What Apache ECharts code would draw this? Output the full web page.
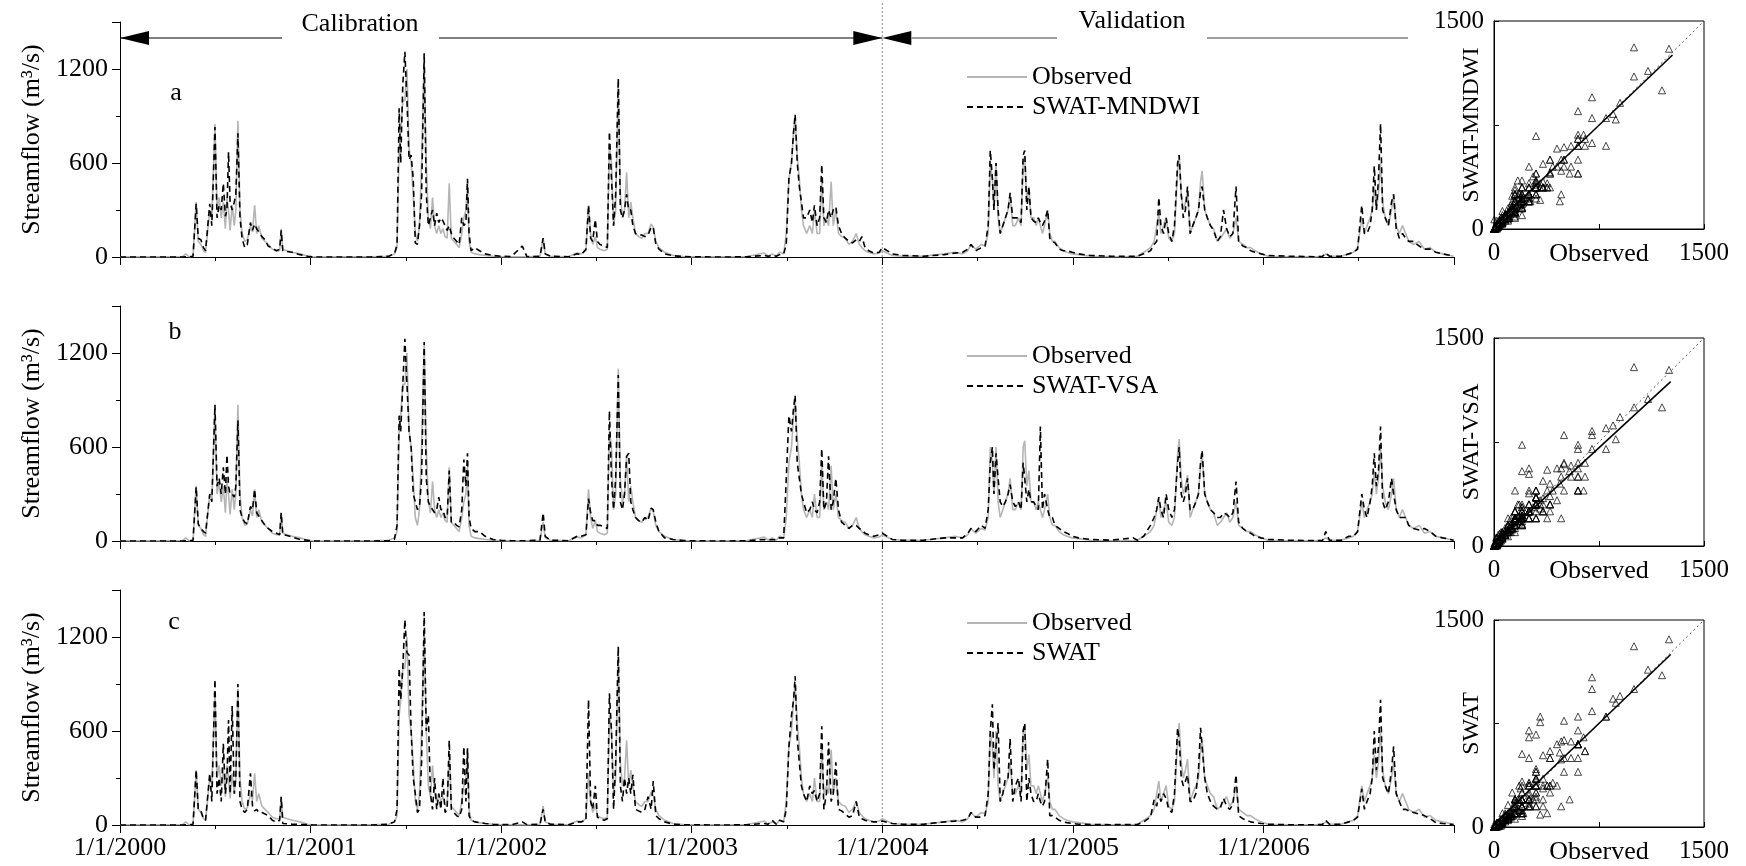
<!DOCTYPE html>
<html>
<head>
<meta charset="utf-8">
<script src="https://cdn.jsdelivr.net/npm/echarts@6/dist/echarts.min.js"></script>
<style>
  html, body { margin: 0; padding: 0; background: #fff; }
  #chart { width: 1746px; height: 866px; }
</style>
</head>
<body>
<div id="chart"></div>
<script>
// day number counted from 1/1/2000, one line per year
const days = [
  0,60,120,126,132,140,146,150,155,160,164,172,176,182,186,190,194,198,202,205,208,211,215,219,222,226,230,234,239,244,250,254,258,262,266,272,278,284,292,300,306,309,312,320,330,345,360,
  370,420,480,515,526,531,535,538,542,546,550,554,558,562,566,570,574,578,583,587,591,595,599,603,607,611,615,619,623,627,631,635,640,645,650,655,659,663,666,669,673,680,689,700,715,730,
  750,771,780,805,811,815,825,860,876,884,893,898,902,906,911,915,920,928,934,938,942,946,950,955,959,963,967,971,975,979,983,988,994,1000,1006,1012,1018,1022,1027,1033,1044,1060,1080,
  1100,1150,1200,1235,1242,1250,1258,1264,1272,1277,1282,1287,1291,1294,1298,1302,1306,1310,1316,1322,1327,1331,1336,1341,1345,1349,1354,1358,1363,1367,1372,1377,1383,1390,1397,1404,1411,1417,1422,1428,1435,1445,1455,
  1461,1480,1500,1540,1580,1600,1615,1625,1631,1640,1651,1658,1664,1668,1672,1675,1679,1683,1687,1692,1697,1702,1706,1711,1716,1722,1727,1731,1734,1738,1742,1746,1751,1756,1760,1764,1768,1772,1778,1782,1787,1792,1800,1808,1815,1825,1837,1860,1900,1942,1950,
  1962,1975,1982,1987,1991,1995,2000,2005,2010,2016,2021,2027,2030,2034,2038,2042,2046,2051,2056,2062,2067,2071,2074,2079,2084,2090,2096,2103,2109,2115,2121,2127,2133,2139,2144,2152,2160,2167,2175,2187,2200,2240,2290,2305,2311,2318,
  2340,2355,2364,2372,2380,2385,2390,2396,2400,2404,2408,2412,2416,2420,2425,2431,2437,2441,2446,2452,2458,2464,2470,2479,2490,2500,2511,2522,2535,2550,2556
];

const observed = [
  2,1,3,20,2,5,350,100,80,40,30,300,260,850,300,380,250,350,180,380,300,170,330,200,300,870,300,150,100,110,200,160,330,150,200,120,100,80,50,40,40,180,50,40,30,20,5,
  0,1,2,5,20,60,700,800,1000,1000,1200,700,600,400,150,100,200,600,1250,600,250,180,380,200,150,200,150,180,130,120,470,120,100,80,60,150,250,300,480,100,30,20,15,10,5,2,
  1,2,1,5,120,20,5,2,25,20,40,330,150,80,130,60,50,40,50,700,600,200,300,1100,400,250,300,540,250,350,250,150,130,120,150,150,210,190,100,60,30,10,3,
  1,1,2,25,5,20,5,30,20,150,500,600,800,900,650,500,300,200,150,200,150,300,150,150,500,200,250,200,480,200,300,150,130,120,80,100,150,80,60,40,30,20,25,
  40,10,5,5,20,30,20,40,80,50,80,70,150,600,500,300,600,250,150,200,250,300,400,200,200,250,200,600,640,350,450,250,250,200,250,200,150,200,300,150,100,100,60,40,30,20,15,5,2,3,5,
  30,60,100,200,280,150,200,250,120,100,150,550,650,400,300,350,420,150,200,250,300,480,550,300,250,200,180,100,120,150,180,120,150,250,100,80,60,60,40,20,5,2,1,5,20,5,
  5,20,30,60,250,150,200,250,300,450,300,400,600,350,250,200,300,400,200,150,200,150,100,80,100,50,60,30,20,10,5
];

const swatMndwi = [
  0,0,0,2,1,5,340,120,110,60,40,340,200,830,250,330,300,470,260,300,670,350,300,350,400,790,250,120,60,80,220,170,210,180,160,130,110,70,55,40,50,170,40,35,30,15,5,
  0,0,0,5,20,80,950,600,1100,1310,1000,620,650,500,90,80,200,400,1300,400,200,250,300,200,280,220,250,230,200,170,200,150,120,100,80,250,200,220,500,150,40,60,40,20,10,5,
  2,70,2,5,120,20,5,2,20,15,50,330,120,100,240,100,80,70,60,800,500,200,400,1140,300,250,300,400,300,300,200,150,140,140,130,140,190,190,80,50,20,8,3,
  1,0,1,10,5,10,5,15,20,80,500,600,800,910,600,450,350,250,250,300,220,330,200,250,590,250,220,300,250,300,320,200,150,120,100,90,110,100,130,60,40,25,30,
  60,20,10,5,15,25,30,50,80,40,60,70,200,680,500,300,600,300,150,200,250,300,410,250,250,250,220,650,680,300,450,250,230,220,250,220,200,230,300,120,100,90,50,40,40,30,20,10,5,5,5,
  20,40,80,100,380,200,150,250,150,100,200,600,650,400,250,300,450,150,200,250,300,420,450,300,250,200,170,100,130,300,180,130,150,450,100,70,60,40,30,20,10,5,2,5,25,5,
  5,20,30,50,330,150,150,200,300,580,300,500,850,300,250,200,350,400,180,120,150,120,100,100,70,50,50,30,20,10,5
];

const swatVsa = [
  0,0,0,2,1,5,345,110,80,60,50,300,250,870,350,400,300,470,300,550,350,300,300,280,350,770,200,150,120,110,220,200,330,180,160,130,100,80,60,50,40,180,40,35,25,10,5,
  0,0,0,2,10,100,800,700,1000,1290,1000,700,600,300,250,200,220,400,1270,400,250,220,200,180,200,280,200,200,150,150,450,120,120,100,90,200,520,350,560,150,80,60,60,30,10,5,
  2,2,2,5,180,30,5,2,30,30,40,270,180,130,130,100,100,90,80,830,400,200,400,1060,250,200,300,540,560,250,200,150,130,120,150,130,210,200,120,60,20,10,3,
  1,0,1,10,5,10,5,20,20,400,800,700,850,930,500,400,300,250,180,200,250,200,180,250,590,200,250,540,200,250,400,200,120,100,80,100,100,80,70,50,40,30,40,
  50,10,5,5,20,20,20,50,80,60,100,80,200,500,600,300,560,400,250,220,250,300,360,250,220,250,200,500,400,250,330,250,250,220,200,730,200,300,200,150,150,100,80,60,50,30,20,10,5,20,5,
  30,100,150,200,280,200,150,300,200,150,200,500,600,300,250,300,400,200,200,250,300,500,580,300,250,200,180,150,150,180,170,150,180,380,120,80,60,50,30,20,10,5,2,5,60,5,
  5,30,30,60,300,200,150,250,350,560,350,450,730,250,200,250,400,300,200,150,150,150,100,80,70,80,60,30,20,10,5
];

const swatDefault = [
  0,0,0,2,1,5,350,100,90,40,30,330,150,930,200,300,150,520,200,300,670,200,760,200,300,900,150,100,80,100,330,120,90,100,80,80,70,60,30,20,30,180,10,8,5,3,2,
  0,0,0,5,20,100,1000,800,1000,1310,1100,1085,600,300,200,80,100,400,1360,600,700,200,100,300,100,200,100,300,80,100,540,100,80,60,50,100,500,150,490,60,30,20,15,10,5,3,
  2,20,2,5,100,20,5,2,20,20,30,800,150,100,250,50,40,30,40,840,600,100,400,1140,250,150,300,200,300,200,320,100,90,80,100,180,100,280,60,40,20,5,2,
  1,0,1,10,5,30,5,30,20,100,500,700,800,950,550,400,250,200,150,250,200,220,150,200,630,100,200,530,150,200,400,100,90,70,50,60,150,50,40,30,25,20,20,
  25,10,5,5,20,25,30,40,80,50,50,60,200,600,770,350,500,650,150,200,300,300,550,150,250,300,150,600,650,150,300,200,150,150,200,150,120,150,420,60,60,50,30,20,15,10,5,3,2,3,3,
  20,50,160,120,200,150,200,170,100,80,200,620,550,300,250,280,320,150,150,200,350,620,500,300,200,150,120,100,110,170,120,100,130,320,60,40,30,20,15,10,5,2,2,5,30,5,
  5,20,30,50,230,100,150,200,300,600,350,500,800,300,250,200,350,500,200,150,100,100,90,80,70,60,40,15,10,5,3
];

const yearLabels = ['1/1/2000', '1/1/2001', '1/1/2002', '1/1/2003', '1/1/2004', '1/1/2005', '1/1/2006'];
const simNames = ['SWAT-MNDWI', 'SWAT-VSA', 'SWAT'];
const panelLetters = ['a', 'b', 'c'];
// regression lines, plus the 1:1 line
const fitLines = [
  [[0, 25], [1275, 1255]],
  [[0, 10], [1262, 1185]],
  [[0, 20], [1262, 1250]]
];
const oneToOne = [[0, 0], [1500, 1500]];
const splitDay = 1461; // 1/1/2004, start of validation

const FONT = '"Liberation Serif", "Times New Roman", Times, serif';
const YEAR = 365.25;
const sims = [swatMndwi, swatVsa, swatDefault];
const tsTop = [22, 306, 590];
const scTop = [21, 338, 620];
const legendTop = [64, 343, 610];
const letterPos = [[176, 93], [175, 332], [174, 622]];

const black = { color: '#000', width: 1 };
const grid = [], xAxis = [], yAxis = [], series = [], legend = [];

tsTop.forEach((top, k) => {
  grid.push({ left: 120, top: top, width: 1334, height: 235 });
  xAxis.push({
    type: 'value', gridIndex: k, min: 0, max: 7 * YEAR, interval: YEAR,
    axisLine: { lineStyle: black },
    axisTick: { length: 8, lineStyle: black },
    minorTick: { show: true, splitNumber: 2, length: 4, lineStyle: black },
    splitLine: { show: false },
    axisLabel: {
      show: k === 2, margin: 10, color: '#000', fontSize: 26, fontFamily: FONT,
      formatter: v => yearLabels[Math.round(v / YEAR)] || ''
    }
  });
  yAxis.push({
    type: 'value', gridIndex: k, min: 0, max: 1500, interval: 600,
    name: 'Streamflow (m³/s)', nameLocation: 'middle', nameGap: 74,
    nameTextStyle: { fontSize: 26, fontFamily: FONT, color: '#000' },
    axisLine: { show: true, lineStyle: black },
    axisTick: { show: true, length: 8, lineStyle: black },
    minorTick: { show: true, splitNumber: 2, length: 4, lineStyle: black },
    splitLine: { show: false },
    axisLabel: {
      margin: 12, color: '#000', fontSize: 26, fontFamily: FONT,
      formatter: v => (v <= 1200 ? String(v) : '')
    }
  });
  series.push({
    name: 'Observed', type: 'line', xAxisIndex: k, yAxisIndex: k,
    symbol: 'none', silent: true,
    lineStyle: { color: '#b5b5b5', width: 1.6 },
    itemStyle: { color: '#b5b5b5' },
    data: days.map((d, i) => [d, observed[i]])
  });
  series.push({
    name: simNames[k], type: 'line', xAxisIndex: k, yAxisIndex: k,
    symbol: 'none', silent: true,
    lineStyle: { color: '#000', width: 1.6, type: [6, 4] },
    itemStyle: { color: '#000' },
    data: days.map((d, i) => [d, sims[k][i]])
  });
  legend.push({
    left: 966, top: legendTop[k], orient: 'vertical', padding: 0,
    itemWidth: 60, itemHeight: 14, itemGap: 4, selectedMode: false,
    itemStyle: { opacity: 0 },
    textStyle: { fontSize: 26, fontFamily: FONT, color: '#000' },
    data: ['Observed', simNames[k]]
  });
});

scTop.forEach((top, k) => {
  const gi = 3 + k;
  grid.push({ left: 1494, top: top, width: 210, height: 208, show: true, borderColor: '#000', borderWidth: 1 });
  xAxis.push({
    type: 'value', gridIndex: gi, min: 0, max: 1500, interval: 750,
    name: 'Observed', nameLocation: 'middle', nameGap: 12, nameMoveOverlap: false,
    nameTextStyle: { fontSize: 26, fontFamily: FONT, color: '#000', verticalAlign: 'top' },
    axisLine: { lineStyle: black },
    axisTick: { inside: true, length: 5, lineStyle: black },
    splitLine: { show: false },
    axisLabel: {
      margin: 12, color: '#000', fontSize: 25, fontFamily: FONT,
      formatter: v => (v === 750 ? '' : String(v))
    }
  });
  yAxis.push({
    type: 'value', gridIndex: gi, min: 0, max: 1500, interval: 750,
    name: simNames[k], nameLocation: 'middle', nameGap: 10, nameMoveOverlap: false,
    nameTextStyle: { fontSize: 24, fontFamily: FONT, color: '#000' },
    axisLine: { show: true, lineStyle: black },
    axisTick: { show: true, inside: true, length: 5, lineStyle: black },
    splitLine: { show: false },
    axisLabel: {
      margin: 10, color: '#000', fontSize: 25, fontFamily: FONT,
      formatter: v => (v === 750 ? '' : String(v))
    }
  });
  series.push({
    type: 'scatter', xAxisIndex: gi, yAxisIndex: gi, silent: true,
    symbol: 'triangle', symbolSize: 7,
    itemStyle: { color: 'rgba(0,0,0,0)', borderColor: '#000', borderWidth: 0.9 },
    data: observed.map((o, i) => [o, sims[k][i]])
  });
  series.push({
    type: 'line', xAxisIndex: gi, yAxisIndex: gi, symbol: 'none', silent: true,
    lineStyle: { color: '#555', width: 1, type: [2, 3] },
    data: oneToOne
  });
  series.push({
    type: 'line', xAxisIndex: gi, yAxisIndex: gi, symbol: 'none', silent: true,
    lineStyle: { color: '#000', width: 1.6 },
    data: fitLines[k]
  });
});

const chart = echarts.init(document.getElementById('chart'));
chart.setOption({
  animation: false,
  backgroundColor: '#fff',
  grid, xAxis, yAxis, series, legend
});

// period annotation and panel letters, placed from the time axis
const xStart = chart.convertToPixel({ xAxisIndex: 0 }, 0);
const xSplit = chart.convertToPixel({ xAxisIndex: 0 }, splitDay);
const yArrow = 38;
const head = 29, half = 7;
const textStyle = { font: '26px ' + FONT, fill: '#000', textAlign: 'center', textVerticalAlign: 'middle' };

const graphic = [
  { type: 'line', shape: { x1: xSplit, y1: 3, x2: xSplit, y2: 828 }, style: { stroke: '#8c8c8c', lineWidth: 1, lineDash: [2, 2] } },
  { type: 'line', shape: { x1: xStart, y1: yArrow, x2: 282, y2: yArrow }, style: { stroke: '#000', lineWidth: 1.2 } },
  { type: 'line', shape: { x1: 439, y1: yArrow, x2: xSplit, y2: yArrow }, style: { stroke: '#000', lineWidth: 1.2 } },
  { type: 'polygon', shape: { points: [[xStart, yArrow], [xStart + head, yArrow - half], [xStart + head, yArrow + half]] }, style: { fill: '#000' } },
  { type: 'polygon', shape: { points: [[xSplit, yArrow], [xSplit - head, yArrow - half], [xSplit - head, yArrow + half]] }, style: { fill: '#000' } },
  { type: 'polygon', shape: { points: [[xSplit, yArrow], [xSplit + head, yArrow - half], [xSplit + head, yArrow + half]] }, style: { fill: '#000' } },
  { type: 'line', shape: { x1: xSplit + head, y1: yArrow, x2: 1057, y2: yArrow }, style: { stroke: '#808080', lineWidth: 1.5 } },
  { type: 'line', shape: { x1: 1207, y1: yArrow, x2: 1408, y2: yArrow }, style: { stroke: '#808080', lineWidth: 1.5 } },
  { type: 'text', x: 360, y: 24, style: Object.assign({ text: 'Calibration' }, textStyle) },
  { type: 'text', x: 1132, y: 21, style: Object.assign({ text: 'Validation' }, textStyle) }
];
panelLetters.forEach((t, k) => {
  graphic.push({ type: 'text', x: letterPos[k][0], y: letterPos[k][1], style: Object.assign({ text: t }, textStyle) });
});
chart.setOption({ graphic });
</script>
</body>
</html>
